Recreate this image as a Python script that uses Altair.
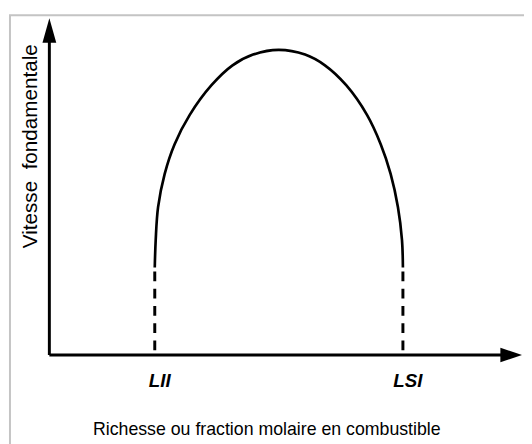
import altair as alt
import pandas as pd

# Curve (arbitrary units: x = richesse 0..100, y = vitesse 0..100)
curve_x = [22.3, 22.5, 23.0, 24.4, 26.5, 29.7, 34.3, 38.75, 43.1, 48.5,
           54.1, 58.3, 62.8, 67.2, 70.1, 72.2, 73.75, 74.6, 74.8]
curve_y = [26.0, 34.2, 43.9, 53.8, 62.6, 71.3, 80.1, 86.0, 89.2, 90.6,
           89.2, 86.0, 80.1, 71.3, 62.6, 53.8, 43.9, 34.2, 26.0]

limit_names = ["LII", "LSI"]
limit_x = [22.3, 74.8]
limit_top = [24.8, 24.8]

x_title = "Richesse ou fraction molaire en combustible"
y_title = "Vitesse\u00a0 fondamentale"

FONT = "Liberation Sans"
W, H = 480, 342
xs = alt.Scale(domain=[0, 100], nice=False, zero=False)
ys = alt.Scale(domain=[0, 100], nice=False, zero=False)

curve_df = pd.DataFrame({"x": curve_x, "y": curve_y, "o": list(range(len(curve_x)))})
lim_df = pd.DataFrame({"name": limit_names, "x": limit_x, "top": limit_top, "bottom": [0, 0], "ly": [-9.4, -9.4]})
axes_df = pd.DataFrame({"x": [0], "y": [0], "xend": [97], "yend": [95]})
xarrow_df = pd.DataFrame({"x": [100], "y": [0]})
yarrow_df = pd.DataFrame({"x": [0], "y": [100]})
titles_df = pd.DataFrame({"t": [x_title], "x": [46.0], "y": [-23.7]})
ytitle_df = pd.DataFrame({"t": [y_title], "x": [-3.85], "y": [62.0]})

border = alt.Chart(pd.DataFrame({"a": [0]})).mark_rect(
    fill="white", stroke="#c4c4c4", strokeWidth=2
).encode(x=alt.value(-40), y=alt.value(-3), x2=alt.value(700), y2=alt.value(700))

xaxis_line = alt.Chart(axes_df).mark_rule(color="black", strokeWidth=3).encode(
    x=alt.X("x:Q", scale=xs, axis=None), x2="xend:Q", y=alt.Y("y:Q", scale=ys, axis=None)
)
yaxis_line = alt.Chart(axes_df).mark_rule(color="black", strokeWidth=3).encode(
    x=alt.X("x:Q", scale=xs, axis=None), y=alt.Y("y:Q", scale=ys, axis=None), y2="yend:Q"
)
xarrow = alt.Chart(xarrow_df).mark_point(
    shape="M0,0L-1,-0.34L-1,0.34Z", size=1936, filled=True, opacity=1, color="black", strokeWidth=0
).encode(x=alt.X("x:Q", scale=xs, axis=None), y=alt.Y("y:Q", scale=ys, axis=None))
yarrow = alt.Chart(yarrow_df).mark_point(
    shape="M0,0L-0.28,1L0.28,1Z", size=2500, filled=True, opacity=1, color="black", strokeWidth=0
).encode(x=alt.X("x:Q", scale=xs, axis=None), y=alt.Y("y:Q", scale=ys, axis=None))

curve = alt.Chart(curve_df).mark_line(
    color="black", strokeWidth=2.7, interpolate="catmull-rom"
).encode(x=alt.X("x:Q", scale=xs, axis=None), y=alt.Y("y:Q", scale=ys, axis=None), order="o:Q")

dashes = alt.Chart(lim_df).mark_rule(
    color="black", strokeWidth=3, strokeDash=[10, 7.5]
).encode(x=alt.X("x:Q", scale=xs, axis=None), y=alt.Y("top:Q", scale=ys, axis=None), y2="bottom:Q")

labels = alt.Chart(lim_df).mark_text(
    font=FONT, fontSize=19, fontWeight="bold", fontStyle="italic", dx=5, baseline="alphabetic", color="black"
).encode(x=alt.X("x:Q", scale=xs, axis=None), y=alt.Y("ly:Q", scale=ys, axis=None), text="name:N")

xt = alt.Chart(titles_df).mark_text(
    font=FONT, fontSize=18, baseline="alphabetic", color="black"
).encode(x=alt.X("x:Q", scale=xs, axis=None), y=alt.Y("y:Q", scale=ys, axis=None), text="t:N")

yt = alt.Chart(ytitle_df).mark_text(
    font=FONT, fontSize=21, angle=270, baseline="middle", color="black"
).encode(x=alt.X("x:Q", scale=xs, axis=None), y=alt.Y("y:Q", scale=ys, axis=None), text="t:N")

chart = alt.layer(border, xaxis_line, yaxis_line, xarrow, yarrow, curve, dashes, labels, xt, yt).properties(
    width=W, height=H,
    autosize=alt.AutoSizeParams(type="none"),
    padding={"left": 42, "top": 7, "right": 2, "bottom": 87},
).configure_view(stroke=None).configure(background="white")

chart.save("out.html", embed_options={"renderer": "svg", "actions": False})
